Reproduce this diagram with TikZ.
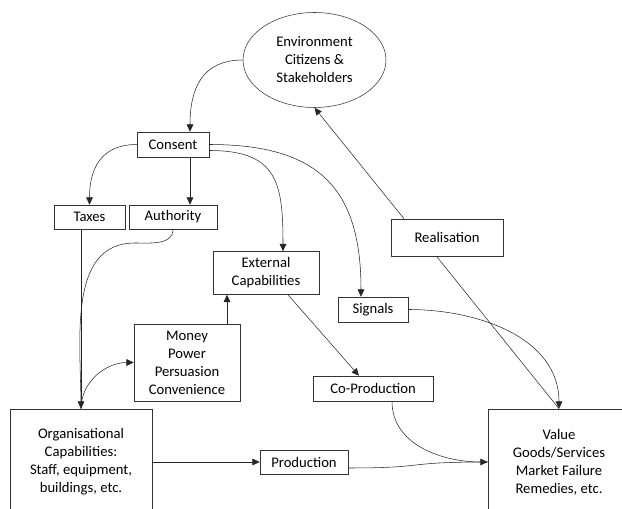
\documentclass[tikz,border=0pt]{standalone}
\usepackage{fontspec}
\setmainfont{Carlito}
\usetikzlibrary{arrows.meta,shapes.geometric,calc}

\begin{document}
\begin{tikzpicture}[x=0.75pt, y=0.75pt,
  font=\fontsize{11}{13.5}\selectfont,
  box/.style={draw=black!80, thin, align=center, inner sep=0pt},
  link/.style={black!85, thin},
  tip/.style={-{Triangle[length=5.5pt, width=5pt]}}]

  \clip (0, 0) rectangle (622, -509);

    % Environment
    \node[ellipse, box, minimum width=107.25pt, minimum height=71.25pt] (env) at (314.5, -60) {Environment\\Citizens \&\\Stakeholders};

    % Consent
    \node[box, minimum width=54pt, minimum height=18.75pt] (consent) at (173, -144.5) {Consent};
    \draw[link, tip] (env.west) to[out=180, in=90, looseness=1.2] ($(consent.north)+(17, 0)$);

    % Taxes
    \node[box, minimum width=53.25pt, minimum height=18pt] (taxes) at (89.5, -217) {Taxes};
    \draw[link, tip] (consent.west) to[out=180, in=90, looseness=1.2] (taxes.north);

    % Authority
    \node[box, minimum width=66pt, minimum height=18pt] (authority) at (173, -217) {Authority};
    \draw[link, tip] ($(consent.south)+(17, 0)$) -- ($(authority.north)+(17, 0)$);

    % External capabilities
    \node[box, minimum width=79.5pt, minimum height=32.25pt] (ext) at (266, -273) {External\\Capabilities};
    \draw[link, tip] ($(consent.east)+(0, -6)$) to[out=0, in=90, looseness=1.4] ($(ext.north)+(17, 0)$);

    % Signals
    \node[box, minimum width=52.5pt, minimum height=18.75pt] (signals) at (373, -309.5) {Signals};
    \draw[link, tip] (consent.east) to[out=0, in=90, looseness=1.3] ($(signals.north)+(-12, 0)$);

    % Realisation
    \node[box, minimum width=84pt, minimum height=27.75pt] (realisation) at (447, -237.5) {Realisation};
    \draw[link, tip] ($(realisation.north)+(-43, 0)$) -- (env.south);

    % Money, power, ...
    \node[box, minimum width=79.5pt, minimum height=57.75pt] (money) at (187, -362.5) {Money\\Power\\Persuasion\\Convenience};
    \draw[link, tip] ($(money.north)+(40, 0)$) -- ($(ext.south)+(-39, 0)$);

    % Organisational capabilities
    \node[box, minimum width=106.5pt, minimum height=79.5pt] (org) at (81, -462) {Organisational\\Capabilities:\\Staff, equipment,\\buildings, etc.};
    \coordinate (bend) at (135, -243);
    \draw[link, tip] (org.north |- taxes.south) -- (org.north);
    \draw[link] (authority.south) to[out=-90, in=0] (bend) to[out=180, in=90] (org.north);
    \draw[link, tip] (org.north) to[out=90, in=180] (money.west);

    % Co-production
    \node[box, minimum width=90pt, minimum height=18.75pt] (coprod) at (373, -388.5) {Co-Production};
    \draw[link, tip] ($(ext.south)+(22, 0)$) -- ($(coprod.north)+(-14, 0)$);

    % Production
    \node[box, minimum width=66pt, minimum height=18pt] (prod) at (304, -462) {Production};
    \draw[link, tip] (org.east) -- (prod.west);

    % Value
    \node[box, minimum width=106.5pt, minimum height=79.5pt] (value) at (559, -462) {Value\\Goods/Services\\Market Failure\\Remedies, etc.};
    \draw[link, tip] (signals.east) to[out=0, in=90] (value.north);
    \draw[link, tip] ($(coprod.south)+(19, 0)$) to[out=-90, in=180] (value.west);
    \draw[link] ($(prod.east)+(0, -6)$) .. controls (430, -468) and (400, -462) .. (value.west);
    \draw[link] ($(realisation.south)+(-10.5, 0)$) -- (value.north);

\end{tikzpicture}
\end{document}
